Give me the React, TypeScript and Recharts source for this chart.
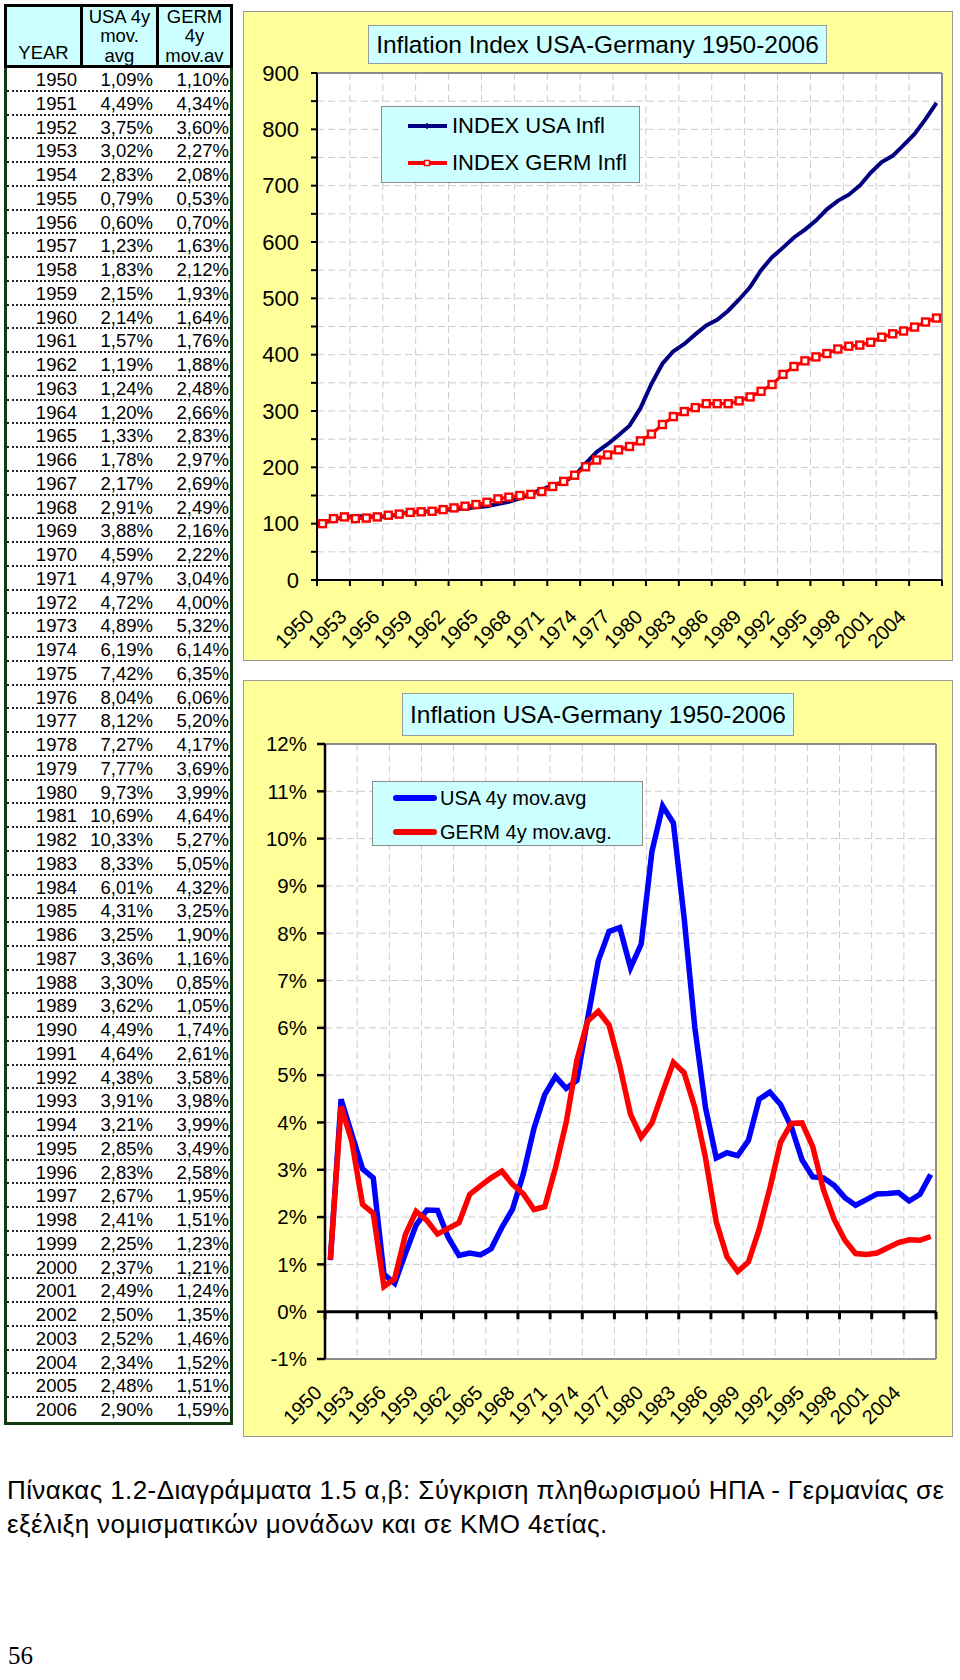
import React from "react"
import { LineChart, Line, XAxis, YAxis, CartesianGrid, ReferenceLine, Legend } from "recharts"

const SANS = '"Liberation Sans", Arial, sans-serif'
const YELLOW = "#ffff99"
const CYAN = "#ccffff"

// categories
const years = [
  1950, 1951, 1952, 1953, 1954, 1955, 1956, 1957, 1958, 1959,
  1960, 1961, 1962, 1963, 1964, 1965, 1966, 1967, 1968, 1969,
  1970, 1971, 1972, 1973, 1974, 1975, 1976, 1977, 1978, 1979,
  1980, 1981, 1982, 1983, 1984, 1985, 1986, 1987, 1988, 1989,
  1990, 1991, 1992, 1993, 1994, 1995, 1996, 1997, 1998, 1999,
  2000, 2001, 2002, 2003, 2004, 2005, 2006,
]

// 4-year moving averages (%), from the table
const usaAvg = [
  1.09, 4.49, 3.75, 3.02, 2.83, 0.79, 0.6, 1.23, 1.83, 2.15,
  2.14, 1.57, 1.19, 1.24, 1.2, 1.33, 1.78, 2.17, 2.91, 3.88,
  4.59, 4.97, 4.72, 4.89, 6.19, 7.42, 8.04, 8.12, 7.27, 7.77,
  9.73, 10.69, 10.33, 8.33, 6.01, 4.31, 3.25, 3.36, 3.3, 3.62,
  4.49, 4.64, 4.38, 3.91, 3.21, 2.85, 2.83, 2.67, 2.41, 2.25,
  2.37, 2.49, 2.5, 2.52, 2.34, 2.48, 2.9,
]
const germAvg = [
  1.1, 4.34, 3.6, 2.27, 2.08, 0.53, 0.7, 1.63, 2.12, 1.93,
  1.64, 1.76, 1.88, 2.48, 2.66, 2.83, 2.97, 2.69, 2.49, 2.16,
  2.22, 3.04, 4.0, 5.32, 6.14, 6.35, 6.06, 5.2, 4.17, 3.69,
  3.99, 4.64, 5.27, 5.05, 4.32, 3.25, 1.9, 1.16, 0.85, 1.05,
  1.74, 2.61, 3.58, 3.98, 3.99, 3.49, 2.58, 1.95, 1.51, 1.23,
  1.21, 1.24, 1.35, 1.46, 1.52, 1.51, 1.59,
]

// inflation index (1950 = 100)
const usaIndex = [
  100, 108, 111, 113, 113, 112, 113, 117, 120, 121,
  122, 124, 126, 127, 129, 131, 135, 139, 145, 153,
  161, 168, 174, 185, 207, 227, 241, 257, 274, 305,
  348, 384, 406, 419, 436, 452, 462, 478, 498, 520,
  550, 573, 590, 608, 622, 638, 658, 673, 684, 700,
  723, 742, 753, 772, 792, 818, 847,
]
const germIndex = [
  100, 109, 112, 109, 110, 112, 115, 117, 120, 121,
  122, 125, 128, 131, 134, 138, 144, 147, 150, 152,
  157, 166, 175, 186, 201, 213, 222, 231, 237, 247,
  259, 276, 290, 299, 306, 313, 313, 313, 318, 325,
  335, 347, 365, 379, 389, 396, 402, 410, 415, 417,
  422, 431, 437, 442, 449, 458, 465,
]

// tick positions: category boundaries every 3 years
const yearTicks = [
  1949.5, 1952.5, 1955.5, 1958.5, 1961.5, 1964.5, 1967.5, 1970.5, 1973.5, 1976.5,
  1979.5, 1982.5, 1985.5, 1988.5, 1991.5, 1994.5, 1997.5, 2000.5, 2003.5, 2006.5,
]
const indexTicks = [0, 50, 100, 150, 200, 250, 300, 350, 400, 450, 500, 550, 600, 650, 700, 750, 800, 850, 900]
const pctTicks = [-1, 0, 1, 2, 3, 4, 5, 6, 7, 8, 9, 10, 11, 12]
const seriesOrder = ["usa", "germ"]

const indexData = years.map((year, i) => ({ year, usa: usaIndex[i], germ: germIndex[i] }))
const pctData = years.map((year, i) => ({ year, usa: usaAvg[i], germ: germAvg[i] }))

const fmtPct = (v: number) => v.toFixed(2).replace(".", ",") + "%"

const yearLabel = (v: number) => {
  const y = Math.round(v + 0.5)
  return y > 2006 ? "" : String(y)
}

const ordered = (payload: any[]) =>
  [...(payload || [])].sort((a, b) => seriesOrder.indexOf(a.dataKey) - seriesOrder.indexOf(b.dataKey))

function YearTick({ x, y, payload, dy }: any) {
  const label = yearLabel(payload.value)
  if (!label) return null
  const ax = x - 2
  const ay = y + dy
  return (
    <text x={ax} y={ay} transform={`rotate(-45, ${ax}, ${ay})`} textAnchor="end" fontSize={20} fontFamily={SANS} fill="#000">
      {label}
    </text>
  )
}

function SquareDot({ cx, cy }: any) {
  if (cx == null || cy == null) return null
  return <rect x={cx - 3.5} y={cy - 3.5} width={7} height={7} fill="#fff" stroke="#ff0000" strokeWidth={2.4} />
}

function IndexLegend({ payload }: any) {
  return (
    <div style={{ width: 259, height: 77, boxSizing: "border-box", background: CYAN, border: "1px solid #8c8c8c", position: "relative", fontFamily: SANS, fontSize: 22, color: "#000" }}>
      {ordered(payload).map((e: any, i: number) => (
        <div key={e.value} style={{ position: "absolute", left: 25, top: 4 + i * 37, height: 30, display: "flex", alignItems: "center", whiteSpace: "nowrap" }}>
          <svg width={41} height={12} style={{ marginRight: 4 }}>
            <line x1={1} y1={6} x2={40} y2={6} stroke={e.color} strokeWidth={4} />
            {e.dataKey === "usa" ? (
              <line x1={20} y1={3} x2={20} y2={9} stroke={e.color} strokeWidth={1.5} />
            ) : (
              <rect x={17.5} y={3.5} width={5} height={5} fill="#fff" stroke={e.color} strokeWidth={1.5} />
            )}
          </svg>
          <span>{e.value}</span>
        </div>
      ))}
    </div>
  )
}

function AvgLegend({ payload }: any) {
  return (
    <div style={{ width: 271, height: 65, boxSizing: "border-box", background: CYAN, border: "1px solid #8c8c8c", position: "relative", fontFamily: SANS, fontSize: 20, color: "#000" }}>
      {ordered(payload).map((e: any, i: number) => (
        <div key={e.value} style={{ position: "absolute", left: 20, top: 2 + i * 34, height: 28, display: "flex", alignItems: "center", whiteSpace: "nowrap" }}>
          <svg width={44} height={12} style={{ marginRight: 3 }}>
            <line x1={3} y1={6} x2={41} y2={6} stroke={e.color} strokeWidth={6} strokeLinecap="round" />
          </svg>
          <span>{e.value}</span>
        </div>
      ))}
    </div>
  )
}

function IndexChart() {
  return (
    <div style={{ position: "absolute", left: 243, top: 11, width: 710, height: 650, background: YELLOW, boxShadow: "inset 0 0 0 1px #9a9a9a" }}>
      <LineChart width={710} height={650} data={indexData} margin={{ top: 62, right: 11, bottom: 11, left: 14 }}>
        <CartesianGrid stroke="#cccccc" strokeDasharray="7 4" fill="#ffffff" />
        <XAxis
          dataKey="year"
          type="number"
          domain={[1949.5, 2006.5]}
          ticks={yearTicks}
          interval={0}
          height={70}
          tickSize={6}
          tickMargin={0}
          axisLine={{ stroke: "#000", strokeWidth: 2 }}
          tickLine={{ stroke: "#000", strokeWidth: 2 }}
          tick={<YearTick dy={32} />}
        />
        <YAxis
          type="number"
          domain={[0, 900]}
          ticks={indexTicks}
          interval={0}
          width={60}
          tickSize={6}
          tickMargin={12}
          axisLine={{ stroke: "#000", strokeWidth: 2 }}
          tickLine={{ stroke: "#000", strokeWidth: 2 }}
          tick={{ fill: "#000", fontSize: 22, fontFamily: SANS }}
          tickFormatter={(v: number) => (v % 100 === 0 ? String(v) : "")}
        />
        <ReferenceLine y={900} stroke="#8c8c8c" strokeWidth={2} />
        <ReferenceLine x={2006.5} stroke="#8c8c8c" strokeWidth={2} />
        <Legend
          layout="vertical"
          align="center"
          verticalAlign="middle"
          content={<IndexLegend />}
          wrapperStyle={{ left: 138, top: 95, width: 259, height: 77 }}
        />
        <Line dataKey="usa" name="INDEX USA Infl" stroke="#000080" strokeWidth={4} dot={false} isAnimationActive={false} />
        <Line dataKey="germ" name="INDEX GERM Infl" stroke="#ff0000" strokeWidth={3.2} dot={<SquareDot />} isAnimationActive={false} />
      </LineChart>
      <div style={{ position: "absolute", left: 125, top: 14, width: 459, height: 39, boxSizing: "border-box", background: CYAN, border: "1px solid #9a9a9a", fontFamily: SANS, fontSize: 24.5, lineHeight: "37px", textAlign: "center", color: "#000" }}>
        Inflation Index USA-Germany 1950-2006
      </div>
    </div>
  )
}

function AvgChart() {
  return (
    <div style={{ position: "absolute", left: 243, top: 680, width: 710, height: 757, background: YELLOW, boxShadow: "inset 0 0 0 1px #9a9a9a" }}>
      <LineChart width={710} height={757} data={pctData} margin={{ top: 64, right: 17, bottom: 8, left: 22 }}>
        <CartesianGrid stroke="#cccccc" strokeDasharray="7 4" fill="#ffffff" />
        <XAxis
          dataKey="year"
          type="number"
          domain={[1949.5, 2006.5]}
          ticks={yearTicks}
          interval={0}
          height={70}
          tickSize={0}
          tickMargin={0}
          axisLine={false}
          tickLine={false}
          tick={<YearTick dy={35} />}
        />
        <YAxis
          type="number"
          domain={[-1, 12]}
          ticks={pctTicks}
          interval={0}
          width={60}
          tickSize={8}
          tickMargin={10}
          axisLine={{ stroke: "#000", strokeWidth: 2.5 }}
          tickLine={{ stroke: "#000", strokeWidth: 2.5 }}
          tick={{ fill: "#000", fontSize: 20.5, fontFamily: SANS }}
          tickFormatter={(v: number) => `${v}%`}
        />
        <ReferenceLine y={12} stroke="#8c8c8c" strokeWidth={2} />
        <ReferenceLine y={-1} stroke="#8c8c8c" strokeWidth={2} />
        <ReferenceLine x={2006.5} stroke="#8c8c8c" strokeWidth={2} />
        <ReferenceLine y={0} stroke="#000" strokeWidth={3} />
        {yearTicks.map((t) => (
          <ReferenceLine key={t} segment={[{ x: t, y: 0 }, { x: t, y: -0.16 }]} stroke="#000" strokeWidth={3} />
        ))}
        <Legend
          layout="vertical"
          align="center"
          verticalAlign="middle"
          content={<AvgLegend />}
          wrapperStyle={{ left: 129, top: 101, width: 271, height: 65 }}
        />
        <Line dataKey="usa" name="USA 4y mov.avg" stroke="#0000ff" strokeWidth={5.5} strokeLinejoin="miter" dot={false} isAnimationActive={false} />
        <Line dataKey="germ" name="GERM 4y mov.avg." stroke="#ff0000" strokeWidth={5.5} strokeLinejoin="miter" dot={false} isAnimationActive={false} />
      </LineChart>
      <div style={{ position: "absolute", left: 159, top: 13, width: 392, height: 43, boxSizing: "border-box", background: CYAN, border: "1px solid #9a9a9a", fontFamily: SANS, fontSize: 24.5, lineHeight: "41px", textAlign: "center", color: "#000" }}>
        Inflation USA-Germany 1950-2006
      </div>
    </div>
  )
}

function DataTable() {
  const rowH = 23.75
  const cell = (w: number, pad: number): React.CSSProperties => ({ width: w, textAlign: "right", paddingRight: pad, boxSizing: "border-box" })
  const head = (w: number, extra: React.CSSProperties): React.CSSProperties => ({ width: w, height: 58, overflow: "hidden", textAlign: "center", display: "flex", flexDirection: "column", ...extra })
  return (
    <div style={{ position: "absolute", left: 4, top: 4, width: 229, fontFamily: SANS, fontSize: 18.5, color: "#000" }}>
      <div style={{ display: "flex", height: 64, boxSizing: "border-box", border: "3px solid #000", background: CYAN, lineHeight: "19.3px" }}>
        <div style={head(73, { justifyContent: "flex-end", borderRight: "3px solid #000" })}>
          <div style={{ paddingBottom: 3 }}>YEAR</div>
        </div>
        <div style={head(73, { justifyContent: "center", borderRight: "3px solid #000" })}>
          <div>USA 4y</div>
          <div>mov.</div>
          <div>avg</div>
        </div>
        <div style={head(71, { justifyContent: "center" })}>
          <div>GERM</div>
          <div>4y</div>
          <div>mov.av</div>
        </div>
      </div>
      <div style={{ borderLeft: "3px solid #123a12", borderRight: "3px solid #123a12", borderBottom: "3.5px solid #123a12", background: "#fff" }}>
        {years.map((y, i) => (
          <div
            key={y}
            style={{
              display: "flex",
              height: rowH,
              boxSizing: "border-box",
              lineHeight: `${rowH}px`,
              borderBottom: i < years.length - 1 ? "2px dotted #222" : "none",
            }}
          >
            <div style={cell(73, 3)}>{y}</div>
            <div style={cell(76, 3)}>{fmtPct(usaAvg[i])}</div>
            <div style={cell(74, 1)}>{fmtPct(germAvg[i])}</div>
          </div>
        ))}
      </div>
    </div>
  )
}

export default function App() {
  return (
    <div style={{ position: "absolute", left: 0, top: 0, width: 960, height: 1680, background: "#fff", overflow: "hidden" }}>
      <DataTable />
      <IndexChart />
      <AvgChart />
      <div style={{ position: "absolute", left: 7, top: 1473, fontFamily: SANS, fontSize: 26, letterSpacing: 0.4, lineHeight: "34px", whiteSpace: "nowrap", color: "#000" }}>
        Πίνακας 1.2-Διαγράμματα 1.5 α,β: Σύγκριση πληθωρισμού ΗΠΑ - Γερμανίας σε
        <br />
        εξέλιξη νομισματικών μονάδων και σε ΚΜΟ 4ετίας.
      </div>
      <div style={{ position: "absolute", left: 8, top: 1643, fontFamily: '"Liberation Serif", "Times New Roman", serif', fontSize: 25, lineHeight: "25px", color: "#000" }}>
        56
      </div>
    </div>
  )
}
